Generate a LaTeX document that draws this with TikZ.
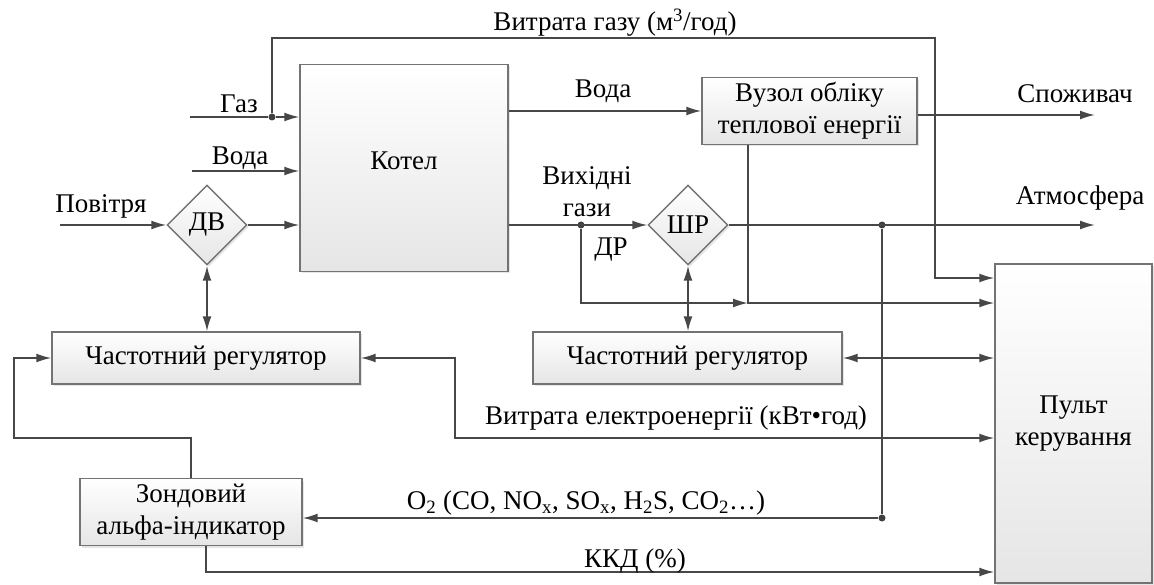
\documentclass[tikz,border=0pt]{standalone}
\usepackage{fontspec}
\setmainfont{Liberation Serif}
\usetikzlibrary{arrows.meta,shapes.geometric,shadows}

\begin{document}
\begin{tikzpicture}[>={Latex[length=15pt,width=9pt]},->,x=1pt,y=-1pt,line width=1.7pt,color=black!72,
                    every node/.style={text=black,font=\fontsize{27}{32}\selectfont}]
  \tikzstyle{block}=[draw=black!55,line width=1.4pt,top color=white,bottom color=black!10,
                     drop shadow={opacity=0.2,shadow xshift=2pt,shadow yshift=-2pt},align=center]
  \tikzstyle{valve}=[block,diamond,minimum width=80pt,minimum height=80pt,inner sep=0pt]
  \tikzstyle{dot}=[circle,fill=black!75,inner sep=0pt,minimum size=7pt]

  \useasboundingbox (0,0) rectangle (1154,585);

  \node[block,minimum width=208pt,minimum height=207pt] (kotel) at (404,168) {Котел\\[-18pt]};
  \node[block,minimum width=215pt,minimum height=67pt]  (vuzol) at (809.5,111) {Вузол обліку\\теплової енергії};
  \node[valve] (dv)  at (207,225) {ДВ};
  \node[valve] (shr) at (688,225) {ШР};
  \node[block,minimum width=308pt,minimum height=52pt]  (chr1) at (206,358) {Частотний регулятор};
  \node[block,minimum width=309pt,minimum height=52pt]  (chr2) at (687.5,358) {Частотний регулятор};
  \node[block,minimum width=222pt,minimum height=67pt]  (zond) at (191,512) {Зондовий\\альфа-індикатор};
  \node[block,minimum width=157pt,minimum height=319pt] (pult) at (1073.5,423.5) {Пульт\\керування};

  % branch points and free ends
  \coordinate (gasin)   at (190,117);
  \node[dot]  (gdot)    at (272,117) {};
  \coordinate (gtop1)   at (272,38);
  \coordinate (gtop2)   at (935,38);
  \coordinate (gend)    at (935,278);
  \coordinate (wtin)    at (192,171);
  \coordinate (airin)   at (60,225);
  \node[dot]  (drdot)   at (581,225) {};
  \node[dot]  (atdot)   at (882,225) {};
  \coordinate (atmout)  at (1095,225);
  \coordinate (consout) at (1095,115);
  \coordinate (vzcorner) at (748,303);
  \node[dot]  (o2dot)   at (882,518) {};
  \coordinate (elcorner) at (455,438);
  \coordinate (loop)    at (14,438);
  \coordinate (kkd)     at (206,572);

  % inputs of the boiler
  \draw[-] (gasin) -- (gdot);
  \draw (gdot) -- (gdot -| kotel.west);
  \draw (gdot) -- (gtop1) -- (gtop2) -- (gend) -- (gend -| pult.west);
  \draw (wtin) -- (wtin -| kotel.west);
  \draw (airin) -- (dv.west);
  \draw (dv.east) -- (dv -| kotel.west);
  \draw[<->] (dv.south) -- (dv.south |- chr1.north);

  % outputs of the boiler
  \draw (vuzol.west -| kotel.east) -- (vuzol.west);
  \draw (vuzol.east |- consout) -- (consout);
  \draw (shr -| kotel.east) -- (shr.west);
  \draw (shr.east) -- (atmout);
  \draw (drdot) |- (vzcorner);
  \draw (vuzol.south -| vzcorner) -- (vzcorner) -- (vzcorner -| pult.west);
  \draw[<->] (shr.south) -- (shr.south |- chr2.north);

  % control lines
  \draw[<->] (chr2.east) -- (chr2.east -| pult.west);
  \draw[<->] (chr1.east) -| (elcorner) -- (elcorner -| pult.west);
  \draw[-] (atdot) -- (o2dot);
  \draw (o2dot) -- (o2dot -| zond.east);
  \draw (zond.north) |- (loop) |- (chr1.west);
  \draw (zond.south -| kkd) -- (kkd) -- (kkd -| pult.west);

  % labels
  \node (lgas)     at (239,104) {Газ};
  \node (lwater1)  at (240,158) {Вода};
  \node (lair)     at (101,206) {Повітря};
  \node (lgasflow) at (615,23)  {Витрата газу (м\textsuperscript{3}/год)};
  \node (lwater2)  at (603,91)  {Вода};
  \node (lflue)    at (587,192) [align=center] {Вихідні\\гази};
  \node (ldr)      at (611,250) {ДР};
  \node (lcons)    at (1075,94) {Споживач};
  \node (latm)     at (1080,198) {Атмосфера};
  \node (lel)      at (676,418) {Витрата електроенергії (кВт•год)};
  \node (lo2)      at (586,503) {O\textsubscript{2} (CO, NO\textsubscript{x}, SO\textsubscript{x}, H\textsubscript{2}S, CO\textsubscript{2}…)};
  \node (lkkd)     at (635,561) {ККД (\%)};
\end{tikzpicture}
\end{document}
